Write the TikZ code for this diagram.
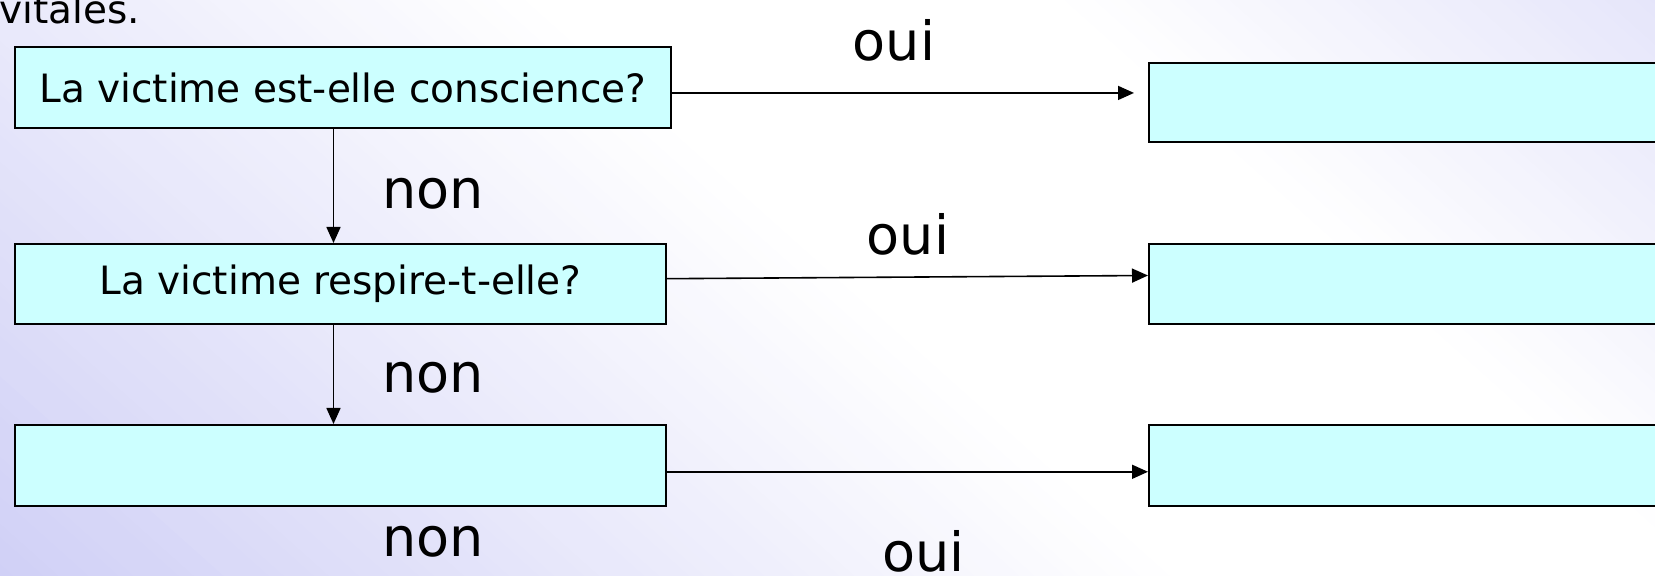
\documentclass[tikz,border=0pt]{standalone}
\usepackage{fontspec}
\setmainfont{DejaVu Sans}
\usetikzlibrary{arrows.meta}
\definecolor{boxfill}{HTML}{CCFFFF}
\definecolor{bgA}{HTML}{D0D0F6}
\definecolor{bgB}{HTML}{E5E5FA}
\begin{document}
\begin{tikzpicture}[x=0.5pt,y=-0.5pt,
  qbox/.style={draw=black, fill=boxfill, line width=1pt, inner sep=0pt},
  conn/.style={line width=0.8pt, -{Triangle[length=8pt,width=7pt]}},
  lbl/.style={font=\fontsize{27}{30}\selectfont, anchor=base, inner sep=0pt},
  btxt/.style={font=\fontsize{19.5}{22}\selectfont}]
\useasboundingbox (0,0) rectangle (1655,576);
\clip (0,0) rectangle (1655,576);
% background: diagonal lavender-white-lavender gradient built from stripes
\foreach \t in {-1140,-1130,...,420}{
  \pgfmathtruncatemacro{\pa}{ifthenelse(\t<-350, min(100,(-350-\t)/7.79), 0)}
  \pgfmathtruncatemacro{\pb}{ifthenelse(\t>0, min(100,\t/4.03), 0)}
  \colorlet{stripe}{bgA!\pa!white}
  \ifnum\pb>0 \colorlet{stripe}{bgB!\pb!white}\fi
  \pgfmathsetmacro{\xa}{1050+\t*0.666}
  \pgfmathsetmacro{\ya}{-\t*0.746}
  \pgfmathsetmacro{\xb}{1050+(\t+12)*0.666}
  \pgfmathsetmacro{\yb}{-(\t+12)*0.746}
  \fill[stripe] (\xa-1492,\ya-1332) -- (\xa+1492,\ya+1332) -- (\xb+1492,\yb+1332) -- (\xb-1492,\yb-1332) -- cycle;
}
\node[anchor=base west, inner sep=0pt, btxt] (vit) at (-1,24) {vitales.};
% left boxes
\node[qbox, btxt, minimum width=328pt, minimum height=40.25pt] (L1) at (343,87.75) {La victime est-elle conscience?};
\node[qbox, btxt, minimum width=325.5pt, minimum height=40pt] (L2) at (340.5,284) {La victime respire-t-elle?};
\node[qbox, minimum width=325.5pt, minimum height=40.5pt] (L3) at (340.5,465.5) {};
% right boxes
\node[qbox, minimum width=265.5pt, minimum height=39.75pt] (R1) at (1414.5,102.75) {};
\node[qbox, minimum width=265.5pt, minimum height=40pt] (R2) at (1414.5,284) {};
\node[qbox, minimum width=265.5pt, minimum height=40.5pt] (R3) at (1414.5,465.5) {};
% connectors
\draw[conn] ([yshift=-2.6pt]L1.east) -- ([xshift=-7pt,yshift=4.9pt]R1.west);
\draw[conn] ([yshift=2.65pt]L2.east) -- ([yshift=4.25pt]R2.west);
\draw[conn] ([yshift=-3.15pt]L3.east) -- ([yshift=-3.15pt]R3.west);
\draw[conn] ([xshift=-4.75pt]L1.south) -- ([xshift=-3.5pt]L2.north);
\draw[conn] ([xshift=-3.5pt]L2.south) -- ([xshift=-3.5pt]L3.north);
% labels
\node[lbl] (o1) at (894,61) {oui};
\node[lbl] (n1) at (433,209) {non};
\node[lbl] (o2) at (908,255) {oui};
\node[lbl] (n2) at (433,392.6) {non};
\node[lbl] (n3) at (433,557) {non};
\node[lbl] (o3) at (923.5,572) {oui};
\end{tikzpicture}
\end{document}
